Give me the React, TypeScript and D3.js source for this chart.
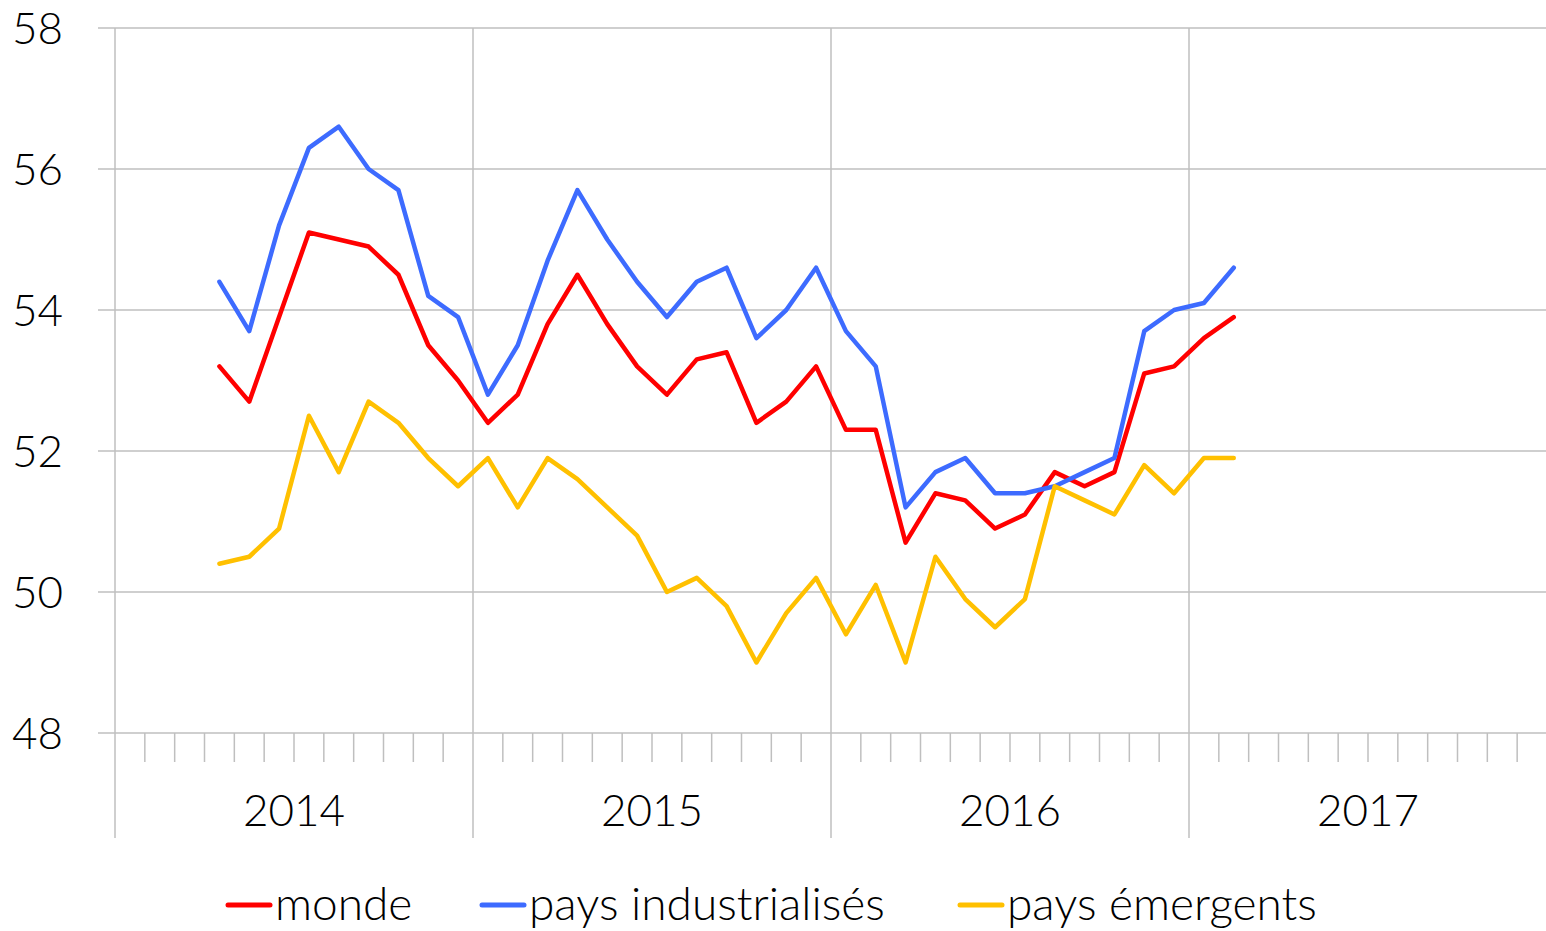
import * as d3 from 'd3';

// données mensuelles, avril 2014 -> février 2017
const monde = [53.2, 52.7, 53.9, 55.1, 55.0, 54.9, 54.5, 53.5, 53.0, 52.4, 52.8, 53.8, 54.5, 53.8, 53.2, 52.8, 53.3, 53.4, 52.4, 52.7, 53.2, 52.3, 52.3, 50.7, 51.4, 51.3, 50.9, 51.1, 51.7, 51.5, 51.7, 53.1, 53.2, 53.6, 53.9];
const industrialises = [54.4, 53.7, 55.2, 56.3, 56.6, 56.0, 55.7, 54.2, 53.9, 52.8, 53.5, 54.7, 55.7, 55.0, 54.4, 53.9, 54.4, 54.6, 53.6, 54.0, 54.6, 53.7, 53.2, 51.2, 51.7, 51.9, 51.4, 51.4, 51.5, 51.7, 51.9, 53.7, 54.0, 54.1, 54.6];
const emergents = [50.4, 50.5, 50.9, 52.5, 51.7, 52.7, 52.4, 51.9, 51.5, 51.9, 51.2, 51.9, 51.6, 51.2, 50.8, 50.0, 50.2, 49.8, 49.0, 49.7, 50.2, 49.4, 50.1, 49.0, 50.5, 49.9, 49.5, 49.9, 51.5, 51.3, 51.1, 51.8, 51.4, 51.9, 51.9];
const years = ['2014', '2015', '2016', '2017'];
const yTicks = [48, 50, 52, 54, 56, 58];
const startMonth = 3; // avril 2014

const series = [
  { name: 'monde', values: monde, color: '#ff0000' },
  { name: 'pays industrialisés', values: industrialises, color: '#3d6bff' },
  { name: 'pays émergents', values: emergents, color: '#ffc000' },
];

const W = 1546, H = 931;
const font = 'Lato, "Open Sans", sans-serif';
const grid = '#bfbfbf';

export default function App() {
  const x = d3.scaleLinear().domain([0, years.length * 12]).range([115, 1547]);
  const y = d3.scaleLinear().domain([48, 58]).range([733, 28]);

  const line = d3.line<number>()
    .x((_, i) => x(startMonth + i + 0.5))
    .y(d => y(d))
    .curve(d3.curveLinear);

  const months = d3.range(0, years.length * 12 + 1);
  const legendX = [228, 482, 960];

  return (
    <svg width={W} height={H} style={{ position: 'absolute', left: 0, top: 0, background: '#fff' }}>
      {/* grille horizontale */}
      {yTicks.map(t => (
        <line key={t} x1={98} x2={W} y1={y(t)} y2={y(t)} stroke={grid} strokeWidth={1.5} />
      ))}
      {/* graduations mensuelles */}
      {months.filter(m => m % 12 !== 0).map(m => (
        <line key={m} x1={x(m)} x2={x(m)} y1={y(48)} y2={762} stroke={grid} strokeWidth={1.5} />
      ))}
      {/* séparateurs d'années */}
      {months.filter(m => m % 12 === 0).map(m => (
        <line key={'y' + m} x1={x(m)} x2={x(m)} y1={y(58)} y2={838} stroke={grid} strokeWidth={1.5} />
      ))}
      {yTicks.map(t => (
        <text key={'l' + t} x={63} y={y(t)} dy="0.36em" textAnchor="end" fontFamily={font} fontWeight={300} fontSize={44} fill="#000">{t}</text>
      ))}
      {years.map((yr, i) => (
        <text key={yr} x={x(i * 12 + 6)} y={826} textAnchor="middle" fontFamily={font} fontWeight={300} fontSize={44} fill="#000">{yr}</text>
      ))}
      {series.map(s => (
        <path key={s.name} d={line(s.values) || ''} fill="none" stroke={s.color} strokeWidth={4.5} strokeLinejoin="round" strokeLinecap="round" />
      ))}
      {/* légende */}
      {series.map((s, i) => (
        <g key={'lg' + s.name} transform={`translate(${legendX[i]},905)`}>
          <line x1={0} x2={42} y1={0} y2={0} stroke={s.color} strokeWidth={5} strokeLinecap="round" />
          <text x={47} y={0} dy="0.33em" fontFamily={font} fontWeight={300} fontSize={46} fill="#000">{s.name}</text>
        </g>
      ))}
    </svg>
  );
}
